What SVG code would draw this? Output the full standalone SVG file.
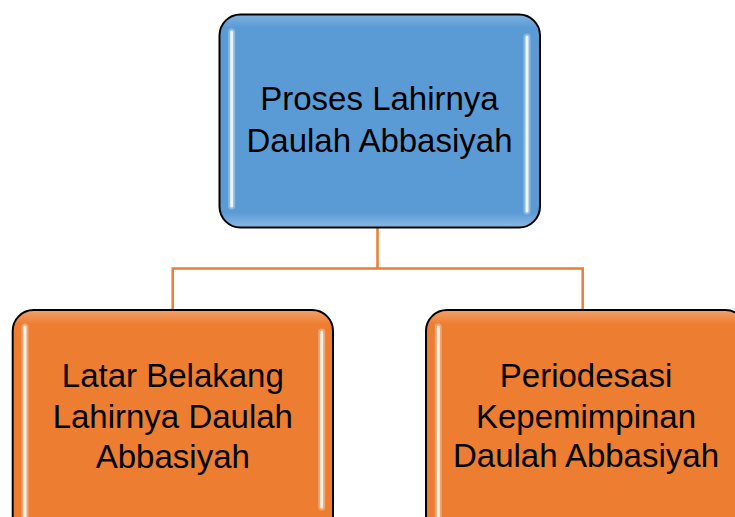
<svg xmlns="http://www.w3.org/2000/svg" width="735" height="517" viewBox="0 0 735 517">
<style>
.box{stroke:#000;stroke-width:2}
.blue{fill:url(#gBlue)}
.orange{fill:url(#gOrange)}
.hl{stroke:#fff;stroke-width:3;stroke-linecap:round;opacity:0.85}
.glow{stroke:#fff;stroke-width:7;stroke-linecap:round;opacity:0.3}
.lbl{font-family:"Liberation Sans",Arial,sans-serif;font-size:33px;fill:#000;text-anchor:middle}
.conn{fill:none;stroke:#ED7D31;stroke-width:2.5}
</style>
<defs>
<linearGradient id="gBlue" x1="0" y1="0" x2="0" y2="1">
<stop offset="0" stop-color="#7fb2e0"/>
<stop offset="0.06" stop-color="#5B9BD5"/>
<stop offset="0.93" stop-color="#5B9BD5"/>
<stop offset="1" stop-color="#8ab9e4"/>
</linearGradient>
<linearGradient id="gOrange" x1="0" y1="0" x2="0" y2="1">
<stop offset="0" stop-color="#f3a06a"/>
<stop offset="0.06" stop-color="#ED7D31"/>
<stop offset="1" stop-color="#ED7D31"/>
</linearGradient>
</defs>
<g id="connectors">
<path class="conn" d="M377.5 228 V268.5 M172.7 310 V268.5 H582.7 V310"/>
</g>
<g id="node-top">
<rect class="box blue" x="219.5" y="14.5" width="320.5" height="213" rx="21" ry="21"/>
<line class="glow" x1="231.7" y1="32" x2="231.7" y2="206"/>
<line class="hl" x1="231.7" y1="32" x2="231.7" y2="206"/>
<line class="glow" x1="527" y1="37" x2="527" y2="211"/>
<line class="hl" x1="527" y1="37" x2="527" y2="211"/>
<text class="lbl" x="379.5" y="110">Proses Lahirnya</text>
<text class="lbl" x="379.5" y="151.7">Daulah Abbasiyah</text>
</g>
<g id="node-left">
<rect class="box orange" x="12.7" y="310" width="320.3" height="240" rx="21" ry="21"/>
<line class="glow" x1="25" y1="327" x2="25" y2="540"/>
<line class="hl" x1="25" y1="327" x2="25" y2="540"/>
<line class="glow" x1="321.7" y1="332" x2="321.7" y2="507"/>
<line class="hl" x1="321.7" y1="332" x2="321.7" y2="507"/>
<text class="lbl" x="172.8" y="386.7">Latar Belakang</text>
<text class="lbl" x="172.8" y="428.3">Lahirnya Daulah</text>
<text class="lbl" x="172.8" y="468.3">Abbasiyah</text>
</g>
<g id="node-right">
<rect class="box orange" x="426" y="310" width="320.3" height="240" rx="21" ry="21"/>
<line class="glow" x1="438.3" y1="327" x2="438.3" y2="540"/>
<line class="hl" x1="438.3" y1="327" x2="438.3" y2="540"/>
<text class="lbl" x="586" y="386.7">Periodesasi</text>
<text class="lbl" x="586" y="428.3">Kepemimpinan</text>
<text class="lbl" x="586" y="466.7">Daulah Abbasiyah</text>
</g>
</svg>
